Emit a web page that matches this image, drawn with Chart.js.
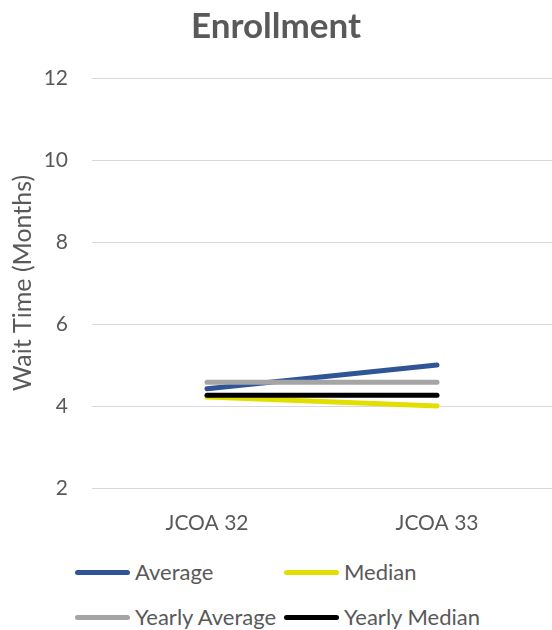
<!DOCTYPE html>
<html>
<head>
<meta charset="utf-8">
<script src="https://cdn.jsdelivr.net/npm/chart.js@4/dist/chart.umd.min.js"></script>
<style>
  body { margin: 0; background: #fff; }
  #wrap { position: relative; width: 552px; height: 630px; }
  #legend { position: absolute; left: 0; top: 555px; width: 552px; font-family: Lato, sans-serif; font-size: 22px; color: #595959; }
  .item { position: absolute; height: 26px; line-height: 26px; white-space: nowrap; }
  .sw { position: absolute; left: 0; top: 15px; width: 55px; height: 5px; border-radius: 3px; }
  .lb { position: absolute; left: 60px; top: 4px; }
</style>
</head>
<body>
<div id="wrap">
  <canvas id="grafico" width="552" height="545"></canvas>
  <div id="legend"></div>
</div>
<script>
// dados
const categorias = ['JCOA 32', 'JCOA 33'];
const media = [4.42, 5.0];
const mediana = [4.22, 4.0];
const mediaAnual = [4.58, 4.58];
const medianaAnual = [4.26, 4.26];
const ticksY = [2, 4, 6, 8, 10, 12];

const series = [
    { label: 'Average', data: media, cor: '#2F5597', ordem: 4 },
    { label: 'Median', data: mediana, cor: '#E2DF00', ordem: 3 },
    { label: 'Yearly Average', data: mediaAnual, cor: '#A5A5A5', ordem: 2 },
    { label: 'Yearly Median', data: medianaAnual, cor: '#000000', ordem: 1 }
];

const canvas = document.getElementById('grafico');
const fonte = 'Lato, sans-serif';
const cinza = '#595959';

const grafico = new Chart(canvas, {
    type: 'line',
    data: {
        labels: categorias,
        datasets: series.map(s => ({
            label: s.label,
            data: s.data,
            borderColor: s.cor,
            backgroundColor: s.cor,
            borderWidth: 5,
            borderCapStyle: 'round',
            pointRadius: 0,
            tension: 0,
            order: s.ordem
        }))
    },
    options: {
        responsive: false,
        animation: false,
        devicePixelRatio: 1,
        layout: { padding: { top: 0, right: 0, bottom: 5, left: 0 } },
        plugins: {
            legend: { display: false },
            tooltip: { enabled: false },
            title: {
                display: true,
                text: 'Enrollment',
                color: cinza,
                font: { family: fonte, size: 35, weight: 'bold' },
                padding: { top: 6, bottom: 30 }
            }
        },
        scales: {
            x: {
                offset: true,
                grid: { display: false },
                border: { display: false },
                afterFit: scale => { scale.height = 52; },
                ticks: { color: cinza, font: { family: fonte, size: 21 }, padding: 15, maxRotation: 0 }
            },
            y: {
                min: 2,
                max: 12,
                afterBuildTicks: scale => { scale.ticks = ticksY.map(v => ({ value: v })); },
                afterFit: scale => { scale.width = 92; },
                grid: { color: '#D9D9D9', lineWidth: 1, drawTicks: false },
                border: { display: false },
                ticks: { color: cinza, font: { family: fonte, size: 21 }, padding: 24 },
                title: {
                    display: true,
                    text: 'Wait Time (Months)',
                    color: cinza,
                    font: { family: fonte, size: 25 },
                    padding: { top: 8, bottom: 0 }
                }
            }
        }
    }
});

// legenda em duas colunas, como no original
const legenda = document.getElementById('legend');
const posicoes = [[75, 0], [284, 0], [75, 45], [284, 45]];
series.forEach((s, i) => {
    const item = document.createElement('div');
    item.className = 'item';
    item.style.left = posicoes[i][0] + 'px';
    item.style.top = posicoes[i][1] + 'px';
    item.innerHTML = '<span class="sw" style="background:' + s.cor + '"></span><span class="lb">' + s.label + '</span>';
    legenda.appendChild(item);
});
</script>
</body>
</html>
